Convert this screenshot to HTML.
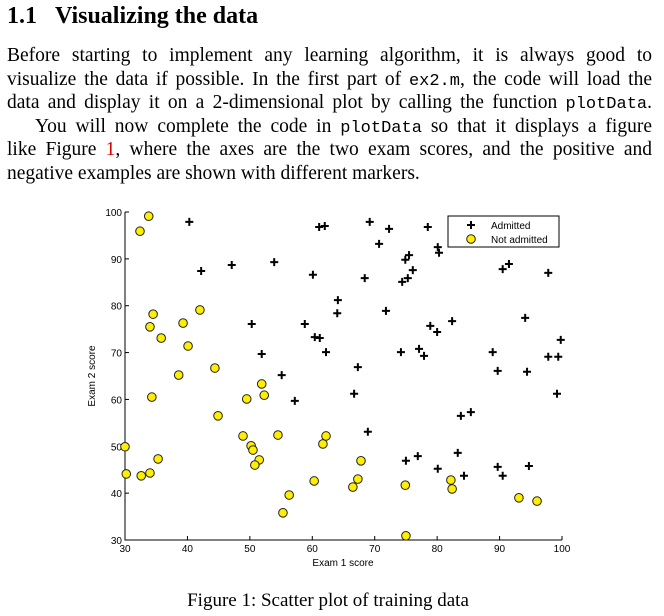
<!DOCTYPE html>
<html><head><meta charset="utf-8">
<style>
body{margin:0;width:664px;height:616px;background:#fff;position:relative;overflow:hidden;font-family:"Liberation Serif",serif;color:#000}
.h{position:absolute;left:7px;top:3px;font-size:24px;font-weight:bold}
.ln{position:absolute;left:7px;width:645px;font-size:19.5px;text-align:justify;text-align-last:justify;white-space:nowrap;line-height:22px}
.tt{font-family:"Liberation Mono",monospace;font-size:17px}
.red{color:#d00}
.cap{position:absolute;left:0;width:656px;top:590px;text-align:center;font-size:19px}
svg{position:absolute;left:0;top:0}
</style></head><body>
<div class="h">1.1&nbsp;&nbsp;&nbsp;Visualizing the data</div>
<div class="ln" style="top:45px">Before starting to implement any learning algorithm, it is always good to</div>
<div class="ln" style="top:69px">visualize the data if possible. In the first part of <span class="tt">ex2.m</span>, the code will load the</div>
<div class="ln" style="top:92px">data and display it on a 2-dimensional plot by calling the function <span class="tt">plotData</span>.</div>
<div class="ln" style="top:116px;left:35px;width:617px">You will now complete the code in <span class="tt">plotData</span> so that it displays a figure</div>
<div class="ln" style="top:139px">like Figure <span class="red">1</span>, where the axes are the two exam scores, and the positive and</div>
<div class="ln" style="top:163px;text-align-last:left">negative examples are shown with different markers.</div>
<svg id="chart" width="664" height="616"></svg>
<div class="cap">Figure 1: Scatter plot of training data</div>
<script>
const admX=[40.3,42.2,47.1,53.9,60.1,61.1,62.0,50.3,58.8,51.9,60.4,61.2,62.2,55.1,57.2,69.2,72.3,70.7,78.5,80.1,80.3,74.9,75.5,76.1,75.3,74.4,68.4,64.1,64.0,71.8,90.5,91.5,97.8,78.9,80.0,82.4,94.1,99.8,74.2,77.1,77.9,88.9,97.8,99.4,67.3,89.7,94.4,66.7,68.9,99.2,83.8,85.4,83.3,75.0,76.9,80.1,84.3,89.7,90.5,94.7];
const admY=[97.9,87.4,88.7,89.3,86.6,96.8,97.0,76.1,76.1,69.7,73.3,73.1,70.1,65.2,59.7,97.9,96.4,93.2,96.8,92.5,91.3,89.8,90.8,87.6,85.9,85.1,85.9,81.2,78.4,78.9,87.8,88.9,87.0,75.7,74.4,76.7,77.4,72.7,70.1,70.8,69.3,70.1,69.1,69.1,66.9,66.1,65.9,61.2,53.1,61.2,56.5,57.3,48.6,46.9,47.9,45.2,43.7,45.6,43.7,45.8];
const notX=[33.8,32.4,34.5,34.0,35.8,39.3,40.1,42.0,38.6,44.4,34.3,44.9,49.5,51.9,52.3,30.0,30.2,32.6,34.0,35.3,48.9,50.2,50.5,51.5,50.8,54.5,56.3,55.3,60.3,61.7,62.2,67.8,67.3,66.5,74.9,82.2,82.4,93.1,96.0,75.0];
const notY=[99.1,95.9,78.2,75.5,73.1,76.3,71.4,79.1,65.2,66.7,60.5,56.5,60.1,63.3,60.9,49.9,44.1,43.7,44.3,47.3,52.2,50.1,49.2,47.1,46.0,52.4,39.6,35.8,42.6,50.5,52.2,46.9,43.0,41.3,41.7,42.8,40.9,39.0,38.3,30.9];
const xTicks=[30,40,50,60,70,80,90,100];
const yTicks=[30,40,50,60,70,80,90,100];
const L=125,R=562,T=212,B=540;
const sx=v=>L+(v-30)/70*(R-L);
const sy=v=>B-(v-30)/70*(B-T);
const svg=document.getElementById('chart');
const NS='http://www.w3.org/2000/svg';
function mk(t,a){const e=document.createElementNS(NS,t);for(const k in a)e.setAttribute(k,a[k]);svg.appendChild(e);return e;}
const ax=mk('path',{d:`M${L},${T}V${B}H${R}`,stroke:'#000','stroke-width':1,fill:'none'});


xTicks.forEach(v=>{
  const t=mk('line',{x1:sx(v),x2:sx(v),y1:B,y2:B-4,stroke:'#000'});
  
  
  const l=mk('text',{x:sx(v),y:B+12,'text-anchor':'middle','font-size':10,'font-family':'Liberation Sans, sans-serif'});
  l.textContent=v;
  
  
});
yTicks.forEach(v=>{
  const t=mk('line',{x1:L,x2:L+4,y1:sy(v),y2:sy(v),stroke:'#000'});
  
  
  const l=mk('text',{x:L-3,y:sy(v)+4,'text-anchor':'end','font-size':10,'font-family':'Liberation Sans, sans-serif'});
  l.textContent=v;
  
  
});
const xt=mk('text',{x:343,y:566,'text-anchor':'middle','font-size':10,'font-family':'Liberation Sans, sans-serif'});
xt.textContent='Exam 1 score';


const yt=mk('text',{x:0,y:0,'text-anchor':'middle','font-size':10,'font-family':'Liberation Sans, sans-serif',transform:'translate(95,376) rotate(-90)'});
yt.textContent='Exam 2 score';


function plus(x,y){return mk('path',{d:`M${x-4},${y}H${x+4}M${x},${y-4}V${y+4}`,stroke:'#000','stroke-width':2,fill:'none'});}
function circ(x,y){return mk('circle',{cx:x,cy:y,r:4.3,fill:'#ffee00',stroke:'#222','stroke-width':1});}
admX.forEach((v,i)=>{const p=plus(sx(v),sy(admY[i]));
  
  });
notX.forEach((v,i)=>{const p=circ(sx(v),sy(notY[i]));
  
  });
const lg=mk('rect',{x:448,y:216,width:111,height:31,fill:'#fff',stroke:'#000','stroke-width':1});


const p1=plus(471,225);


const c1=circ(471,239);


const t1=mk('text',{x:491,y:229,'font-size':10,'font-family':'Liberation Sans, sans-serif'});
t1.textContent='Admitted';


const t2=mk('text',{x:491,y:243,'font-size':10,'font-family':'Liberation Sans, sans-serif'});
t2.textContent='Not admitted';


</script>
</body></html>
